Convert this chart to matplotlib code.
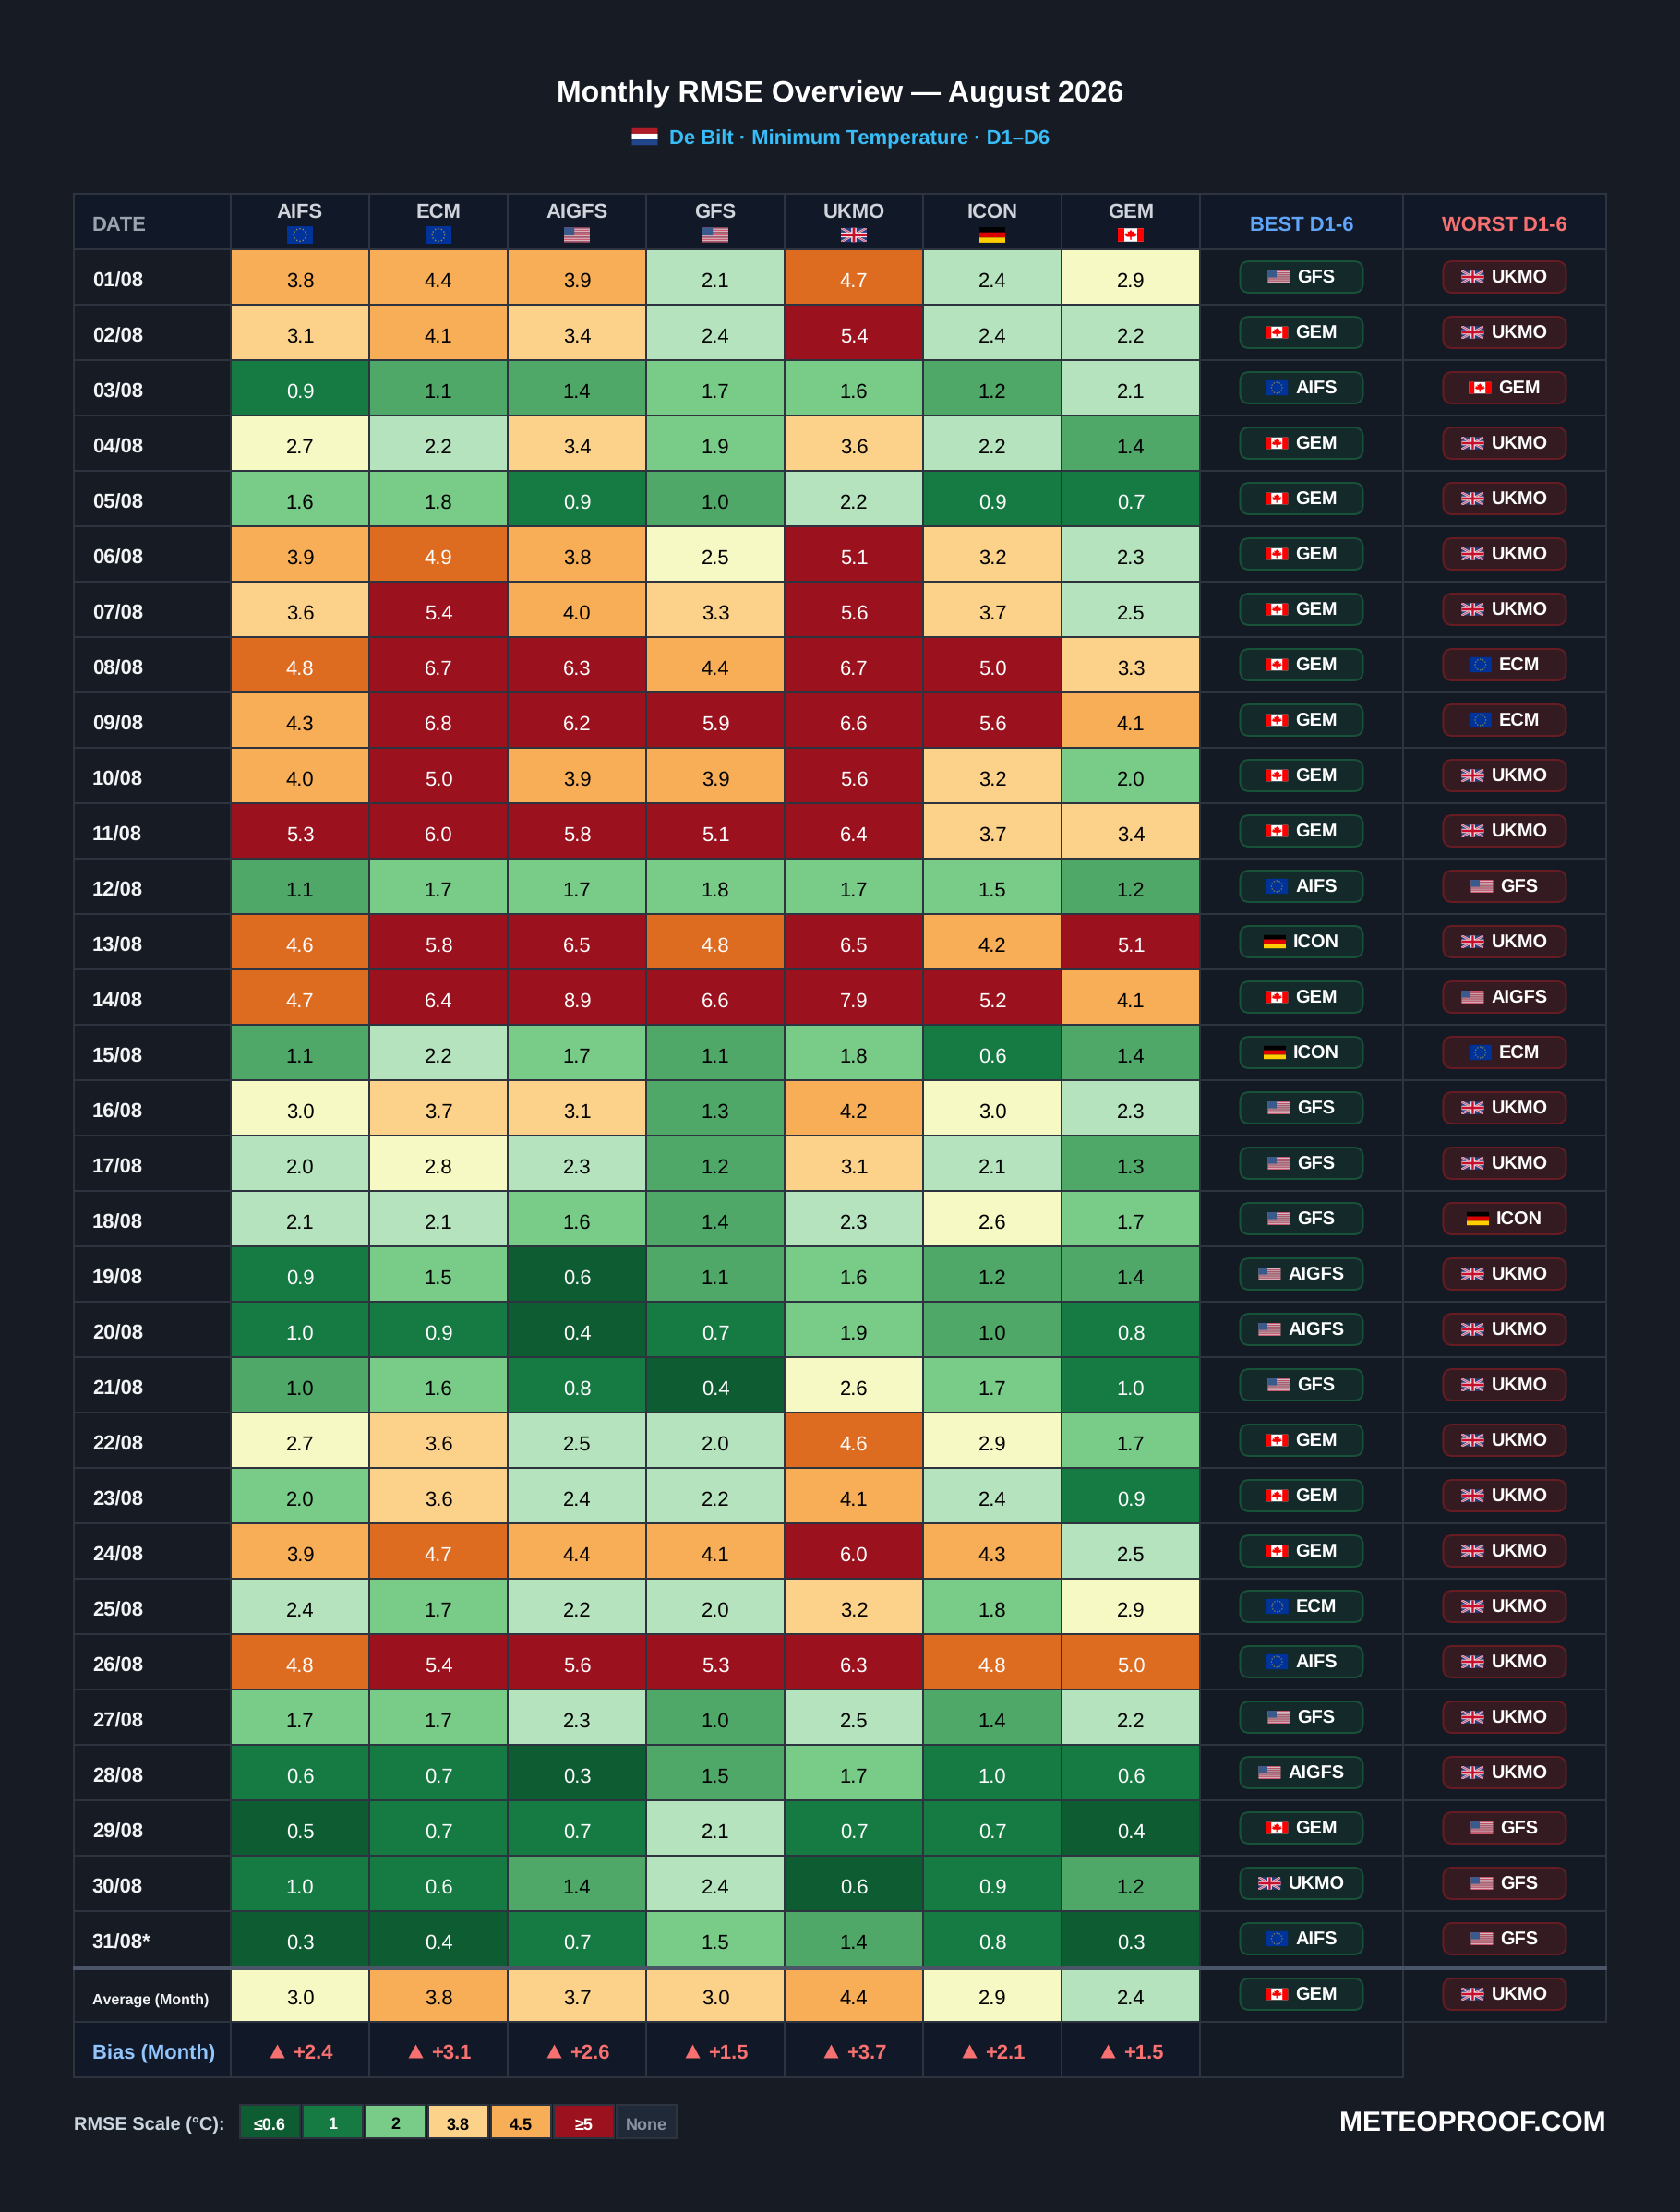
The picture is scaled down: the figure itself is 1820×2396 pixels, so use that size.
import matplotlib
matplotlib.use("Agg")
import matplotlib.pyplot as plt
from matplotlib.patches import Rectangle, FancyBboxPatch, Polygon, Circle
import numpy as np

plt.rcParams['font.family'] = ['Liberation Sans', 'DejaVu Sans']
plt.rcParams['text.hinting'] = 'no_hinting'
plt.rcParams['text.hinting_factor'] = 1

# data
# -------------
models = ['AIFS', 'ECM', 'AIGFS', 'GFS', 'UKMO', 'ICON', 'GEM']
model_flags = {'AIFS': 'eu', 'ECM': 'eu', 'AIGFS': 'us', 'GFS': 'us', 'UKMO': 'gb', 'ICON': 'de', 'GEM': 'ca'}
dates = ['%02d/08' % d for d in range(1, 31)] + ['31/08*']

aifs = [3.8, 3.1, 0.9, 2.7, 1.6, 3.9, 3.6, 4.8, 4.3, 4.0, 5.3, 1.1, 4.6, 4.7, 1.1, 3.0, 2.0, 2.1, 0.9, 1.0, 1.0, 2.7, 2.0, 3.9, 2.4, 4.8, 1.7, 0.6, 0.5, 1.0, 0.3]
ecm = [4.4, 4.1, 1.1, 2.2, 1.8, 4.9, 5.4, 6.7, 6.8, 5.0, 6.0, 1.7, 5.8, 6.4, 2.2, 3.7, 2.8, 2.1, 1.5, 0.9, 1.6, 3.6, 3.6, 4.7, 1.7, 5.4, 1.7, 0.7, 0.7, 0.6, 0.4]
aigfs = [3.9, 3.4, 1.4, 3.4, 0.9, 3.8, 4.0, 6.3, 6.2, 3.9, 5.8, 1.7, 6.5, 8.9, 1.7, 3.1, 2.3, 1.6, 0.6, 0.4, 0.8, 2.5, 2.4, 4.4, 2.2, 5.6, 2.3, 0.3, 0.7, 1.4, 0.7]
gfs = [2.1, 2.4, 1.7, 1.9, 1.0, 2.5, 3.3, 4.4, 5.9, 3.9, 5.1, 1.8, 4.8, 6.6, 1.1, 1.3, 1.2, 1.4, 1.1, 0.7, 0.4, 2.0, 2.2, 4.1, 2.0, 5.3, 1.0, 1.5, 2.1, 2.4, 1.5]
ukmo = [4.7, 5.4, 1.6, 3.6, 2.2, 5.1, 5.6, 6.7, 6.6, 5.6, 6.4, 1.7, 6.5, 7.9, 1.8, 4.2, 3.1, 2.3, 1.6, 1.9, 2.6, 4.6, 4.1, 6.0, 3.2, 6.3, 2.5, 1.7, 0.7, 0.6, 1.4]
icon = [2.4, 2.4, 1.2, 2.2, 0.9, 3.2, 3.7, 5.0, 5.6, 3.2, 3.7, 1.5, 4.2, 5.2, 0.6, 3.0, 2.1, 2.6, 1.2, 1.0, 1.7, 2.9, 2.4, 4.3, 1.8, 4.8, 1.4, 1.0, 0.7, 0.9, 0.8]
gem = [2.9, 2.2, 2.1, 1.4, 0.7, 2.3, 2.5, 3.3, 4.1, 2.0, 3.4, 1.2, 5.1, 4.1, 1.4, 2.3, 1.3, 1.7, 1.4, 0.8, 1.0, 1.7, 0.9, 2.5, 2.9, 5.0, 2.2, 0.6, 0.4, 1.2, 0.3]
rmse = [aifs, ecm, aigfs, gfs, ukmo, icon, gem]

month_avg = [3.0, 3.8, 3.7, 3.0, 4.4, 2.9, 2.4]
month_bias = [2.4, 3.1, 2.6, 1.5, 3.7, 2.1, 1.5]

# colour class of each cell as seen in the picture (the values are rounded so
# the class can't be worked out from them)
cell_classes = [
    'hhheief', 'ghgejee', 'bccddce', 'fegdgec', 'ddbcebb', 'hihfjge', 'gjhgjge',
    'ijjhjjg', 'hjjjjjh', 'hjhhjgd', 'jjjjjgg', 'cdddddc', 'ijjijhj', 'ijjjjjh',
    'cedcdbc', 'fggchfe', 'efecgec', 'eedcefd', 'bdacdcc', 'bbabdcb', 'cdbafdb',
    'fgeeifd', 'dgeeheb', 'hihhjhe', 'edeegdf', 'ijjjjii', 'ddecece', 'bbacdbb',
    'abbebba', 'bbceabc', 'aabdcba',
]
avg_classes = 'fhgghfe'

best = ['GFS', 'GEM', 'AIFS', 'GEM', 'GEM', 'GEM', 'GEM', 'GEM', 'GEM', 'GEM', 'GEM', 'AIFS', 'ICON', 'GEM', 'ICON', 'GFS',
        'GFS', 'GFS', 'AIGFS', 'AIGFS', 'GFS', 'GEM', 'GEM', 'GEM', 'ECM', 'AIFS', 'GFS', 'AIGFS', 'GEM', 'UKMO', 'AIFS']
worst = ['UKMO', 'UKMO', 'GEM', 'UKMO', 'UKMO', 'UKMO', 'UKMO', 'ECM', 'ECM', 'UKMO', 'UKMO', 'GFS', 'UKMO', 'AIGFS', 'ECM', 'UKMO',
         'UKMO', 'ICON', 'UKMO', 'UKMO', 'UKMO', 'UKMO', 'UKMO', 'UKMO', 'UKMO', 'UKMO', 'UKMO', 'UKMO', 'GFS', 'GFS', 'GFS']
best_avg = 'GEM'
worst_avg = 'UKMO'

scale_labels = ['≤0.6', '1', '2', '3.8', '4.5', '≥5', 'None']
scale_classes = ['a', 'b', 'd', 'g', 'h', 'j', 'n']

palette = {'a': '#0d5c32', 'b': '#167a43', 'c': '#4fa868', 'd': '#79cb88', 'e': '#b5e3bd', 'f': '#f7f9c4',
           'g': '#fcd28a', 'h': '#f7ae56', 'i': '#dd6b20', 'j': '#9b111e', 'n': '#1f2937'}
white_text = 'abij'

BG = '#161b24'
HEAD = '#111827'
ROWBG = '#161b24'
SIDEBG = '#131a24'
GRID = '#2d3440'
BEST_FACE, BEST_EDGE = '#14292a', '#185238'
WORST_FACE, WORST_EDGE = '#341b21', '#661c22'

# layout in pixels
col_edges = [80, 250, 400, 550, 700, 850, 1000, 1150, 1300, 1520, 1740]
head_top, head_bot = 210, 270
row_h = 60
sep_y = head_bot + 31 * row_h
avg_top, avg_bot = sep_y + 3, sep_y + 60
bias_bot = sep_y + 120

fig = plt.figure(figsize=(18.2, 23.96), dpi=100, facecolor=BG)
ax = fig.add_axes([0, 0, 1, 1])
ax.set_xlim(0, 1820)
ax.set_ylim(2396, 0)
ax.axis('off')


def px(n):
    return n * 0.72


def txt(x, cy, s, size, color='white', weight='bold', ha='center'):
    # cy is the middle of the capitals
    return ax.text(x, cy + 0.358 * size, s, fontsize=px(size), color=color, fontweight=weight, ha=ha, va='baseline', zorder=6)


def cell(x0, x1, y0, y1, color):
    ax.add_patch(Rectangle((x0, y0), x1 - x0, y1 - y0, facecolor=color, edgecolor=GRID, linewidth=px(2), zorder=2))


def text_width(s, size):
    t = ax.text(0, 0, s, fontsize=px(size), fontweight='bold')
    w = t.get_window_extent(fig.canvas.get_renderer()).width
    t.remove()
    return w


def flag(code, x, cy, w):
    h = {'eu': w * 0.68, 'us': w * 0.58, 'gb': w * 0.55, 'de': w * 0.6, 'ca': w * 0.52, 'nl': w * 0.66}[code]
    y = cy - h / 2
    z = 7

    def r(fx, fy, fw, fh, c):
        ax.add_patch(Rectangle((x + fx * w, y + fy * h), fw * w, fh * h, facecolor=c, edgecolor='none', zorder=z, snap=False))

    if code == 'eu':
        r(0, 0, 1, 1, '#003399')
        for a in np.arange(0, 2 * np.pi, np.pi / 6):
            ax.add_patch(Circle((x + w / 2 + 0.24 * w * np.cos(a), cy + 0.36 * h * np.sin(a)), 0.03 * w, facecolor='#8f8a4e', edgecolor='none', zorder=z + 1))
    elif code == 'us':
        # the stripes are finer than a pixel-and-a-bit in the original, so they read as pink
        for i in range(13):
            r(0, i / 13, 1, 1 / 13, '#cf5a72' if i % 2 == 0 else '#f0c8d2')
        r(0, 0, 0.4, 7 / 13, '#3a5a8c')
    elif code == 'de':
        r(0, 0, 1, 1 / 3, '#000000')
        r(0, 1 / 3, 1, 1 / 3, '#dd0000')
        r(0, 2 / 3, 1, 1 / 3, '#ffce00')
    elif code == 'nl':
        r(0, 0, 1, 1 / 3, '#ae1c28')
        r(0, 1 / 3, 1, 1 / 3, '#ffffff')
        r(0, 2 / 3, 1, 1 / 3, '#21468b')
    elif code == 'ca':
        r(0, 0, 1, 1, '#ffffff')
        r(0, 0, 0.25, 1, '#ff0000')
        r(0.75, 0, 0.25, 1, '#ff0000')
        leaf = [(0, -.40), (.06, -.24), (.14, -.28), (.11, -.08), (.22, -.16), (.19, -.04), (.27, .0), (.16, .14),
                (.03, .14), (.03, .36), (-.03, .36), (-.03, .14), (-.16, .14), (-.27, .0), (-.19, -.04), (-.22, -.16), (-.11, -.08), (-.14, -.28), (-.06, -.24)]
        ax.add_patch(Polygon([(x + w / 2 + a * w * 0.9, cy + b * h) for a, b in leaf], facecolor='#ff0000', edgecolor='none', zorder=z + 1))
    elif code == 'gb':
        r(0, 0, 1, 1, '#2a3f80')
        clip = Rectangle((x, y), w, h, transform=ax.transData)
        for pts, c, lw in [([(x, y), (x + w, y + h)], '#e8d4dc', 2.4), ([(x, y + h), (x + w, y)], '#e8d4dc', 2.4),
                           ([(x, y), (x + w, y + h)], '#d0405a', 0.9), ([(x, y + h), (x + w, y)], '#d0405a', 0.9)]:
            line, = ax.plot([p[0] for p in pts], [p[1] for p in pts], color=c, lw=px(lw), zorder=z + 1, solid_capstyle='butt')
            line.set_clip_path(clip)
        ax.add_patch(Rectangle((x, y + 0.33 * h), w, 0.34 * h, facecolor='#f4e8ec', edgecolor='none', zorder=z + 2, snap=False))
        ax.add_patch(Rectangle((x + 0.40 * w, y), 0.20 * w, h, facecolor='#f4e8ec', edgecolor='none', zorder=z + 2, snap=False))
        ax.add_patch(Rectangle((x, y + 0.40 * h), w, 0.20 * h, facecolor='#c8102e', edgecolor='none', zorder=z + 3, snap=False))
        ax.add_patch(Rectangle((x + 0.45 * w, y), 0.10 * w, h, facecolor='#c8102e', edgecolor='none', zorder=z + 3, snap=False))


def pill(cx, cy, name, face, edge):
    ax.add_patch(FancyBboxPatch((cx - 66.5 + 10, cy - 17 + 10), 133 - 20, 34 - 20, boxstyle='round,pad=10,rounding_size=10',
                                facecolor=face, edgecolor=edge, linewidth=px(2), zorder=4))
    w = text_width(name, 20)
    left = cx - (24 + 8 + w) / 2
    flag(model_flags[name], left, cy, 24)
    txt(left + 32, cy, name, 20, ha='left')


def bias_label(cx, cy, val):
    s = '+%.1f' % val
    w = text_width(s, 22)
    left = cx + 1.5 - (16 + 8.5 + w) / 2
    ax.add_patch(Polygon([(left + 8, cy - 7.5), (left + 16, cy + 7.5), (left, cy + 7.5)], facecolor='#f87171', edgecolor='none', zorder=6))
    txt(left + 24.5, cy, s, 22, color='#f87171', ha='left')


# title
# -------------
txt(910, 97.5, 'Monthly RMSE Overview — August 2026', 32)
flag('nl', 684.5, 148, 28)
txt(725, 149, 'De Bilt · Minimum Temperature · D1–D6', 22, color='#38bdf8', ha='left')

# header
# -------------
cell(col_edges[0], col_edges[1], head_top, head_bot, HEAD)
txt(100, 242, 'DATE', 22, color='#9ca3af', ha='left')
for j, m in enumerate(models):
    x0, x1 = col_edges[j + 1], col_edges[j + 2]
    cell(x0, x1, head_top, head_bot, HEAD)
    txt((x0 + x1) / 2, 228, m, 22, color='#d1d5db')
    flag(model_flags[m], (x0 + x1) / 2 - 14, 254.5, 28)
cell(col_edges[8], col_edges[9], head_top, head_bot, HEAD)
txt(1410, 242, 'BEST D1-6', 22, color='#60a5fa')
cell(col_edges[9], col_edges[10], head_top, head_bot, HEAD)
txt(1630, 242, 'WORST D1-6', 22, color='#f87171')

# daily rows
# -------------
for i, d in enumerate(dates):
    y0 = head_bot + i * row_h
    y1 = y0 + row_h
    cy = (y0 + y1) / 2
    cell(col_edges[0], col_edges[1], y0, y1, ROWBG)
    txt(100, cy + 3, d, 22, color='#f3f4f6', ha='left')
    for j in range(7):
        k = cell_classes[i][j]
        x0, x1 = col_edges[j + 1], col_edges[j + 2]
        cell(x0, x1, y0, y1, palette[k])
        txt((x0 + x1) / 2, cy + 3, '%.1f' % rmse[j][i], 22, color='white' if k in white_text else 'black', weight='normal')
    cell(col_edges[8], col_edges[9], y0, y1, SIDEBG)
    cell(col_edges[9], col_edges[10], y0, y1, SIDEBG)
    pill(1410, cy, best[i], BEST_FACE, BEST_EDGE)
    pill(1630, cy, worst[i], WORST_FACE, WORST_EDGE)

# average row
# -------------
cell(col_edges[0], col_edges[1], avg_top, avg_bot, ROWBG)
txt(100, avg_top + 32, 'Average (Month)', 16, color='#f3f4f6', ha='left')
for j in range(7):
    k = avg_classes[j]
    x0, x1 = col_edges[j + 1], col_edges[j + 2]
    cell(x0, x1, avg_top, avg_bot, palette[k])
    txt((x0 + x1) / 2, avg_top + 30, '%.1f' % month_avg[j], 22, color='black', weight='normal')
cell(col_edges[8], col_edges[9], avg_top, avg_bot, SIDEBG)
cell(col_edges[9], col_edges[10], avg_top, avg_bot, SIDEBG)
pill(1410, sep_y + 30, best_avg, BEST_FACE, BEST_EDGE)
pill(1630, sep_y + 30, worst_avg, WORST_FACE, WORST_EDGE)

# thick line between the days and the averages
ax.add_patch(Rectangle((col_edges[0] - 1, sep_y - 1), col_edges[-1] - col_edges[0] + 2, 5, facecolor='#4a5568', edgecolor='none', zorder=5))

# bias row
# -------------
cell(col_edges[0], col_edges[1], avg_bot, bias_bot, HEAD)
txt(100, avg_bot + 33, 'Bias (Month)', 22, color='#93c5fd', ha='left')
for j in range(7):
    x0, x1 = col_edges[j + 1], col_edges[j + 2]
    cell(x0, x1, avg_bot, bias_bot, HEAD)
    bias_label((x0 + x1) / 2, avg_bot + 32, month_bias[j])
cell(col_edges[8], col_edges[9], avg_bot, bias_bot, SIDEBG)

# legend and footer
# -------------
txt(80, 2300, 'RMSE Scale (°C):', 20, color='#cbd5e0', ha='left')
for i, (lab, k) in enumerate(zip(scale_labels, scale_classes)):
    x0 = 260 + i * 68
    ax.add_patch(Rectangle((x0, 2280), 65, 36, facecolor=palette[k], edgecolor=GRID, linewidth=px(2), zorder=2))
    if k == 'n':
        c = '#8b93a1'
    else:
        c = 'white' if k in white_text else 'black'
    txt(x0 + 32.5, 2300, lab, 18, color=c)
txt(1740, 2298, 'METEOPROOF.COM', 30, ha='right')

fig.savefig('out.png', dpi=100, facecolor=BG)
